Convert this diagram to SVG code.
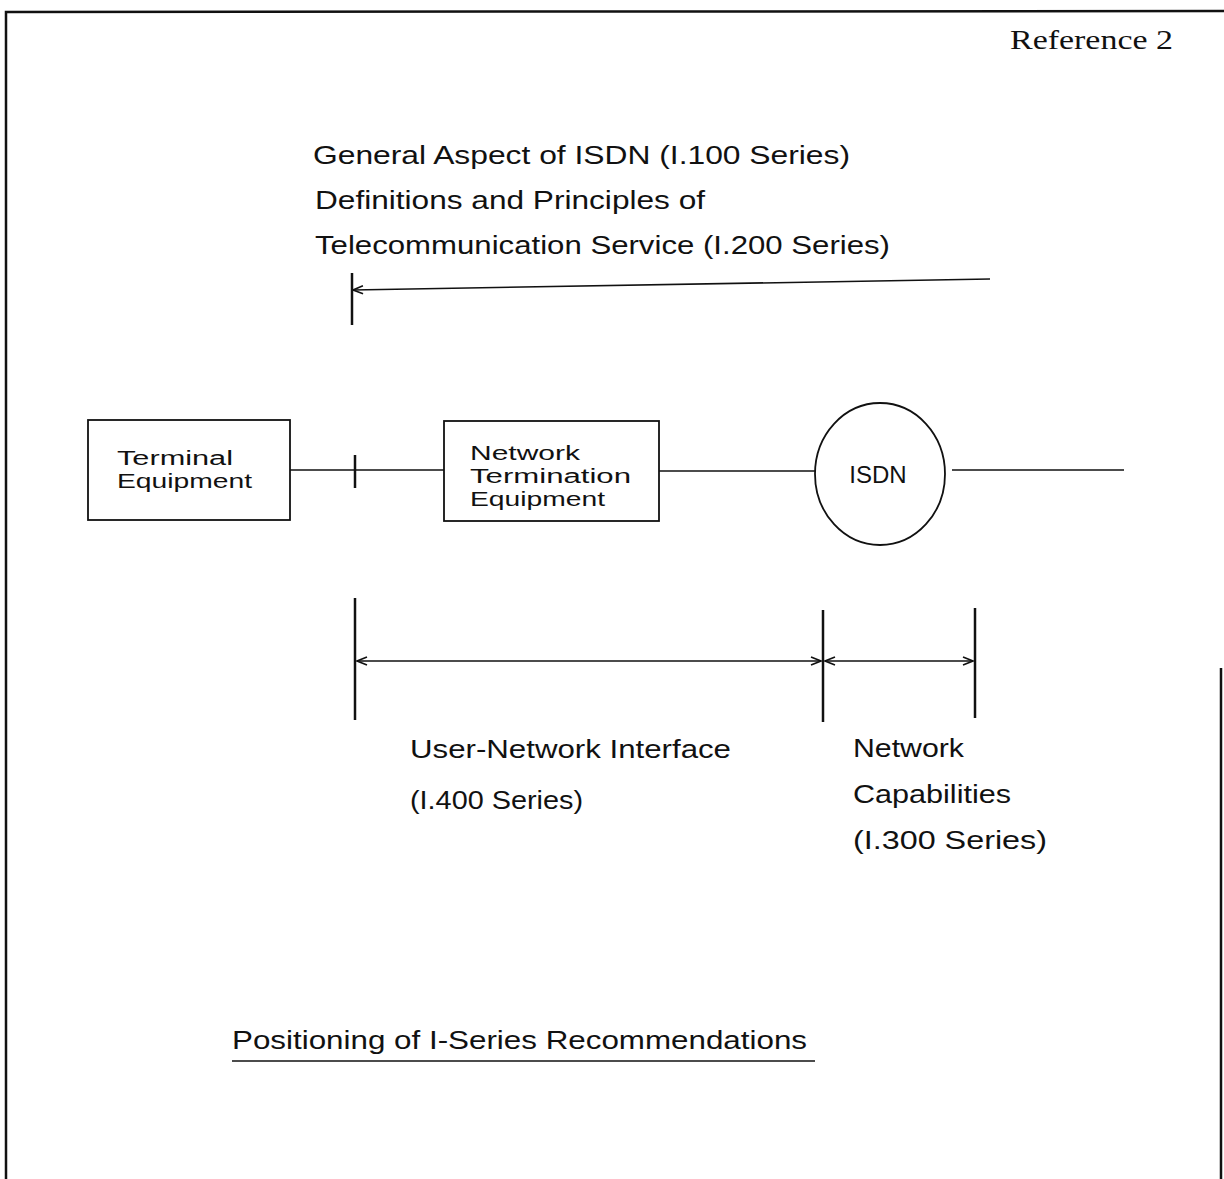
<svg xmlns="http://www.w3.org/2000/svg" width="1224" height="1179" viewBox="0 0 1224 1179">
<style>
  .t { font-family: "Liberation Sans", Arial, sans-serif; font-size: 26px; fill: #111; }
  .n { font-family: "Liberation Sans", Arial, sans-serif; font-size: 20px; fill: #111; }
  .ln { stroke: #111; stroke-width: 1.6; fill: none; }
  .bx { stroke: #111; stroke-width: 1.8; fill: #fff; }
  .bd { stroke: #111; stroke-width: 2.5; fill: none; }
</style>
<defs>
  <marker id="ah" viewBox="0 0 12 10" refX="11" refY="5" markerWidth="12" markerHeight="10" markerUnits="userSpaceOnUse" orient="auto-start-reverse">
    <path d="M1,1 L11,5 L1,9" fill="none" stroke="#111" stroke-width="1.6"/>
  </marker>
</defs>
<rect width="1224" height="1179" fill="#fff"/>
<g id="border">
  <path class="bd" d="M6,1179 L6,12 L1224,11"/>
  <path class="bd" d="M1221,668 L1221,1179"/>
</g>
<text id="ref" x="1010" y="49" font-family="Liberation Serif, serif" font-size="27" fill="#111" textLength="163" lengthAdjust="spacingAndGlyphs">Reference 2</text>
<g id="header-text">
  <text class="t" x="313" y="164" textLength="537" lengthAdjust="spacingAndGlyphs">General Aspect of ISDN (I.100 Series)</text>
  <text class="t" x="315" y="209" textLength="390" lengthAdjust="spacingAndGlyphs">Definitions and Principles of</text>
  <text class="t" x="315" y="254" textLength="575" lengthAdjust="spacingAndGlyphs">Telecommunication Service (I.200 Series)</text>
</g>
<g id="terminal">
  <rect class="bx" x="88" y="420" width="202" height="100"/>
  <text class="n" x="117" y="465" textLength="116" lengthAdjust="spacingAndGlyphs">Terminal</text>
  <text class="n" x="117" y="488" textLength="135" lengthAdjust="spacingAndGlyphs">Equipment</text>
</g>
<g id="nte">
  <rect class="bx" x="444" y="421" width="215" height="100"/>
  <text class="n" x="470" y="460" textLength="110" lengthAdjust="spacingAndGlyphs">Network</text>
  <text class="n" x="470" y="483" textLength="161" lengthAdjust="spacingAndGlyphs">Termination</text>
  <text class="n" x="470" y="506" textLength="135" lengthAdjust="spacingAndGlyphs">Equipment</text>
</g>
<g id="isdn">
  <ellipse class="bx" cx="880" cy="474" rx="65" ry="71"/>
  <text x="878" y="483" text-anchor="middle" font-family="Liberation Sans, Arial, sans-serif" font-size="24" fill="#111">ISDN</text>
</g>
<g id="connectors">
  <path class="ln" d="M990,279 L353,290" marker-end="url(#ah)"/>
  <path class="bd" d="M352,273 L352,325"/>
  <path class="ln" d="M290,470 L444,470"/>
  <path class="bd" d="M355,455 L355,488"/>
  <path class="ln" d="M659,471 L815,471"/>
  <path class="ln" d="M952,470 L1124,470"/>
  <path class="bd" d="M355,598 L355,720"/>
  <path class="bd" d="M823,610 L823,722"/>
  <path class="bd" d="M975,608 L975,718"/>
  <path class="ln" d="M357,661 L821,661" marker-start="url(#ah)" marker-end="url(#ah)"/>
  <path class="ln" d="M825,661 L973,661" marker-start="url(#ah)" marker-end="url(#ah)"/>
</g>
<g id="labels">
  <text class="t" x="410" y="758" textLength="321" lengthAdjust="spacingAndGlyphs">User-Network Interface</text>
  <text class="t" x="410" y="809" textLength="173" lengthAdjust="spacingAndGlyphs">(I.400 Series)</text>
  <text class="t" x="853" y="757" textLength="111" lengthAdjust="spacingAndGlyphs">Network</text>
  <text class="t" x="853" y="803" textLength="158" lengthAdjust="spacingAndGlyphs">Capabilities</text>
  <text class="t" x="853" y="849" textLength="194" lengthAdjust="spacingAndGlyphs">(I.300 Series)</text>
</g>
<g id="caption">
  <text class="t" x="232" y="1049" textLength="575" lengthAdjust="spacingAndGlyphs">Positioning of I-Series Recommendations</text>
  <path class="ln" d="M232,1061 L815,1061"/>
</g>
</svg>
